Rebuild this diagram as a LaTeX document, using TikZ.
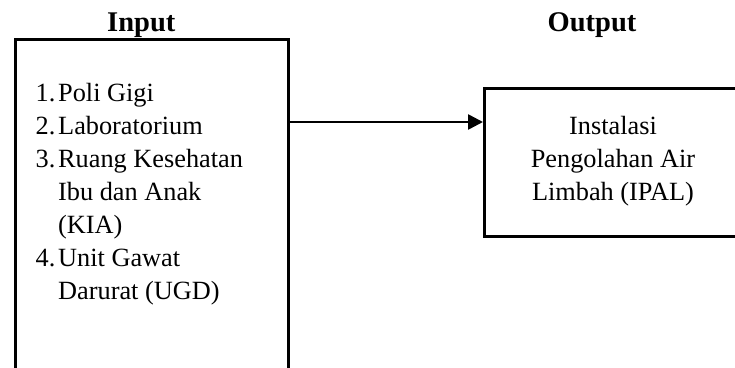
\documentclass[tikz,border=0pt]{standalone}
\usepackage{fontspec}
\setmainfont{Liberation Serif}
\usetikzlibrary{arrows.meta}
\tikzset{
  box/.style={draw=black, line width=2.6pt, inner sep=0pt, anchor=north west},
  itemtxt/.style={align=left, inner sep=0pt, anchor=base west, font=\fontsize{26.3}{32.9}\selectfont},
  outtxt/.style={align=center, inner sep=0pt, anchor=base, font=\fontsize{26.3}{33}\selectfont},
  head/.style={inner sep=0pt, anchor=base, font=\fontsize{28.5}{32}\selectfont\bfseries},
  conn/.style={line width=2.6pt, -{Triangle[length=15pt,width=15pt]}}
}
\newcommand{\itemnum}[1]{\makebox[22.5pt][l]{#1}}
\begin{document}
\begin{tikzpicture}[x=1pt,y=-1pt]
\clip (0,0) rectangle (735,367);
\fill[white] (0,0) rectangle (735,367);
\node[box, minimum width=273pt, minimum height=360pt] (inbox) at (14,38) {};
\node[box, minimum width=270pt, minimum height=148pt] (outbox) at (483,87) {};
\node[head] (inhead) at (141.3,31.5) {Input};
\node[head] (outhead) at (592,31.5) {Output};
\node[itemtxt] (items) at (35.5,299) {\itemnum{1.}Poli Gigi\\
\itemnum{2.}Laboratorium\\
\itemnum{3.}Ruang Kesehatan\\
\itemnum{}Ibu dan Anak\\
\itemnum{}(KIA)\\
\itemnum{4.}Unit Gawat\\
\itemnum{}Darurat (UGD)};
\node[outtxt] (ipal) at (613,200) {Instalasi\\Pengolahan Air\\Limbah (IPAL)};
\draw[conn] (inbox.east |- 0,122) -- (outbox.west |- 0,122);
\end{tikzpicture}
\end{document}
